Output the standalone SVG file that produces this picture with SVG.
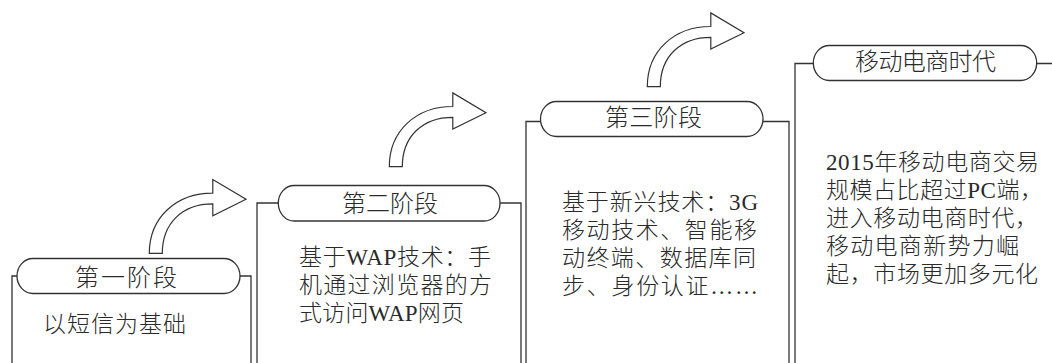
<svg xmlns="http://www.w3.org/2000/svg" xmlns:xlink="http://www.w3.org/1999/xlink" width="1052" height="363" viewBox="0 0 1052 363">
<style>
.bg{fill:#ffffff}
.pill{fill:#ffffff;stroke:#333333;stroke-width:1.3}
.br{fill:none;stroke:#333333;stroke-width:1.3}
.arrow{fill:#ffffff;stroke:#333333;stroke-width:1.2;stroke-linejoin:miter}
.lbl{font-family:"Liberation Serif","Noto Sans CJK SC",serif;font-size:24px;font-weight:300;fill:#2a2a2a}
.body{font-family:"Liberation Serif","Noto Sans CJK SC",serif;font-size:23px;font-weight:300;fill:#2a2a2a}
</style>
<defs>
<path id="arrow" class="arrow" d="M0,0 L13,0 C13,-30 33,-49.4 63.5,-49.4 L63.5,-37.6 L96.7,-54 L63.5,-73.8 L63.5,-60.2 C27,-60.2 0,-36 0,0 Z"/>
</defs>
<rect class="bg" x="0" y="0" width="1052" height="363"/>
<g id="connectors">
<use xlink:href="#arrow" href="#arrow" x="149.3" y="253.3"/>
<use xlink:href="#arrow" href="#arrow" x="389.3" y="166.7"/>
<use xlink:href="#arrow" href="#arrow" x="647.3" y="86.7"/>
</g>
<g id="stage1">
<path class="br" d="M17,276 H12 V363 M240,276 H251 V363"/>
<rect class="pill" x="17" y="258.5" width="223" height="35" rx="16" ry="17.5"/>
<text class="lbl" x="75" y="286" textLength="102" lengthAdjust="spacing">第一阶段</text>
<text class="body" x="43" y="332" textLength="143" lengthAdjust="spacing">以短信为基础</text>
</g>
<g id="stage2">
<path class="br" d="M278,203 H257 V363 M500,203 H521 V363"/>
<rect class="pill" x="278.3" y="185.5" width="221.7" height="35.5" rx="16" ry="17.7"/>
<text class="lbl" x="342" y="212" textLength="96" lengthAdjust="spacing">第二阶段</text>
<text class="body" x="299" y="264.5" textLength="192" lengthAdjust="spacing">基于WAP技术：手</text>
<text class="body" x="299" y="292.5" textLength="193" lengthAdjust="spacing">机通过浏览器的方</text>
<text class="body" x="299" y="320.5" textLength="165" lengthAdjust="spacing">式访问WAP网页</text>
</g>
<g id="stage3">
<path class="br" d="M540,121.5 H526 V363 M763,121.5 H789 V363"/>
<rect class="pill" x="540.5" y="101.5" width="222.5" height="35" rx="16" ry="17.5"/>
<text class="lbl" x="605" y="126" textLength="97" lengthAdjust="spacing">第三阶段</text>
<text class="body" x="562" y="209.5" textLength="196" lengthAdjust="spacing">基于新兴技术：3G</text>
<text class="body" x="562" y="237.5" textLength="195" lengthAdjust="spacing">移动技术、智能移</text>
<text class="body" x="562" y="265.5" textLength="194" lengthAdjust="spacing">动终端、数据库同</text>
<text class="body" x="562" y="293.5" textLength="196" lengthAdjust="spacing">步、身份认证……</text>
</g>
<g id="stage4">
<path class="br" d="M813,63.5 H795 V363 M1037,63.5 H1052"/>
<rect class="pill" x="813.3" y="45.5" width="223.4" height="35" rx="16" ry="17.5"/>
<text class="lbl" x="855" y="70" textLength="141" lengthAdjust="spacing">移动电商时代</text>
<text class="body" x="826" y="170" textLength="213" lengthAdjust="spacing">2015年移动电商交易</text>
<text class="body" x="826" y="198" textLength="217" lengthAdjust="spacing">规模占比超过PC端，</text>
<text class="body" x="826" y="226" textLength="212" lengthAdjust="spacing">进入移动电商时代，</text>
<text class="body" x="826" y="254" textLength="193" lengthAdjust="spacing">移动电商新势力崛</text>
<text class="body" x="826" y="282" textLength="212" lengthAdjust="spacing">起，市场更加多元化</text>
</g>
</svg>
